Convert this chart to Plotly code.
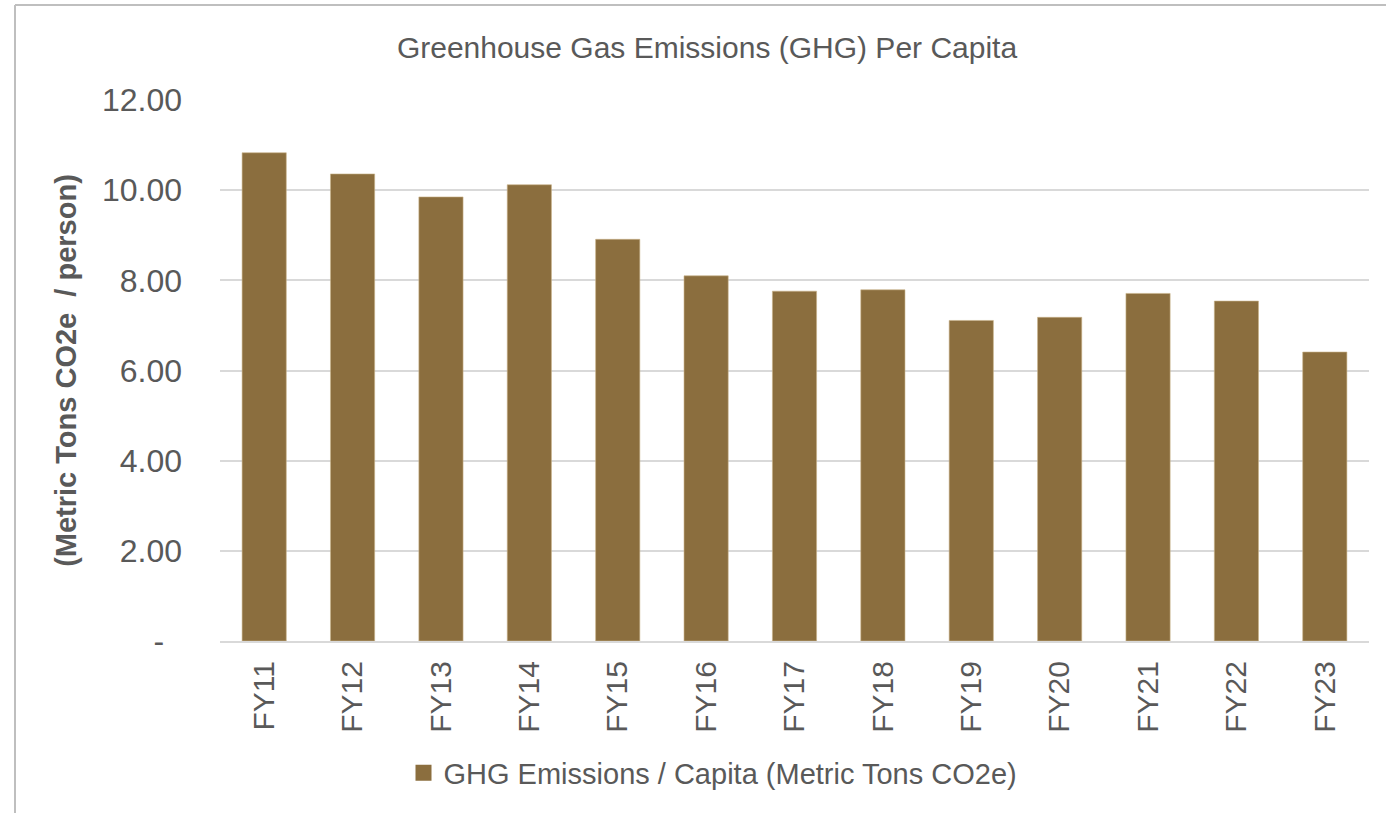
import plotly.graph_objects as go

categories = ["FY11", "FY12", "FY13", "FY14", "FY15", "FY16", "FY17",
              "FY18", "FY19", "FY20", "FY21", "FY22", "FY23"]
values = [10.83, 10.36, 9.85, 10.12, 8.91, 8.10, 7.76,
          7.79, 7.11, 7.18, 7.71, 7.54, 6.41]
series_name = "GHG Emissions / Capita (Metric Tons CO2e)"
y_tickvals = [0, 2, 4, 6, 8, 10, 12]
y_ticktext = ["-\u00a0\u00a0", "2.00", "4.00", "6.00", "8.00", "10.00", "12.00"]

TEXT = "#595959"
BAR = "#8B6E3E"
GRID = "#D9D9D9"
FONT = "Liberation Sans, Arial, sans-serif"

fig = go.Figure()
fig.add_trace(go.Bar(
    x=categories, y=values, name=series_name,
    marker=dict(color=BAR, line=dict(color="#C9B48A", width=0.6)),
    showlegend=False,
))
# legend entry with a larger square swatch
fig.add_trace(go.Scatter(
    x=[None], y=[None], mode="markers", name=series_name,
    marker=dict(symbol="square", size=18, color=BAR),
    showlegend=True, hoverinfo="skip",
))

W, H = 1386, 813
L, R, T, B = 220, 17, 100, 172

fig.update_layout(
    width=W, height=H,
    margin=dict(l=L, r=R, t=T, b=B, autoexpand=False),
    paper_bgcolor="white", plot_bgcolor="white",
    bargap=0.5,
    font=dict(family=FONT, color=TEXT),
    title=dict(text="Greenhouse Gas Emissions (GHG) Per Capita",
               font=dict(size=30, color=TEXT, family=FONT),
               xref="container", yref="container",
               x=707 / W, xanchor="center", y=1 - 47 / H, yanchor="middle"),
    legend=dict(orientation="h", xref="container", yref="container",
                x=713 / W, xanchor="center", y=1 - 773 / H, yanchor="middle",
                font=dict(size=29, color=TEXT, family=FONT),
                itemwidth=30, bgcolor="rgba(0,0,0,0)"),
    xaxis=dict(showgrid=False, showline=True, linecolor=GRID, linewidth=2,
               tickangle=-90, tickfont=dict(size=30, color=TEXT),
               ticks="", ticklabelstandoff=6, automargin=False),
    yaxis=dict(range=[0, 12], tickvals=y_tickvals, ticktext=y_ticktext,
               showgrid=True, gridcolor=GRID, gridwidth=1.5,
               zeroline=False, showline=False, ticks="",
               tickfont=dict(size=32, color=TEXT),
               ticklabelstandoff=37, automargin=False,
               title=dict(text="<b>(Metric Tons CO2e\u00a0 / person)</b>",
                          font=dict(size=29, color=TEXT, family=FONT),
                          standoff=16)),
)

# chart-area border (left and top edges visible in the crop)
px0 = (15 - L) / (W - L - R)
py_top = (H - B - 5) / (H - T - B)
py_bot = (H - B - H) / (H - T - B)
px_right = (W - L) / (W - L - R)
fig.add_shape(type="line", xref="paper", yref="paper",
              x0=px0, x1=px0, y0=py_bot, y1=py_top,
              line=dict(color="#BFBFBF", width=2))
fig.add_shape(type="line", xref="paper", yref="paper",
              x0=px0, x1=px_right, y0=py_top, y1=py_top,
              line=dict(color="#BFBFBF", width=2))

fig.write_html("out.html",
               config={"displayModeBar": False},
               post_script="document.body.style.margin='0';"
                           "document.body.style.overflow='hidden';")
